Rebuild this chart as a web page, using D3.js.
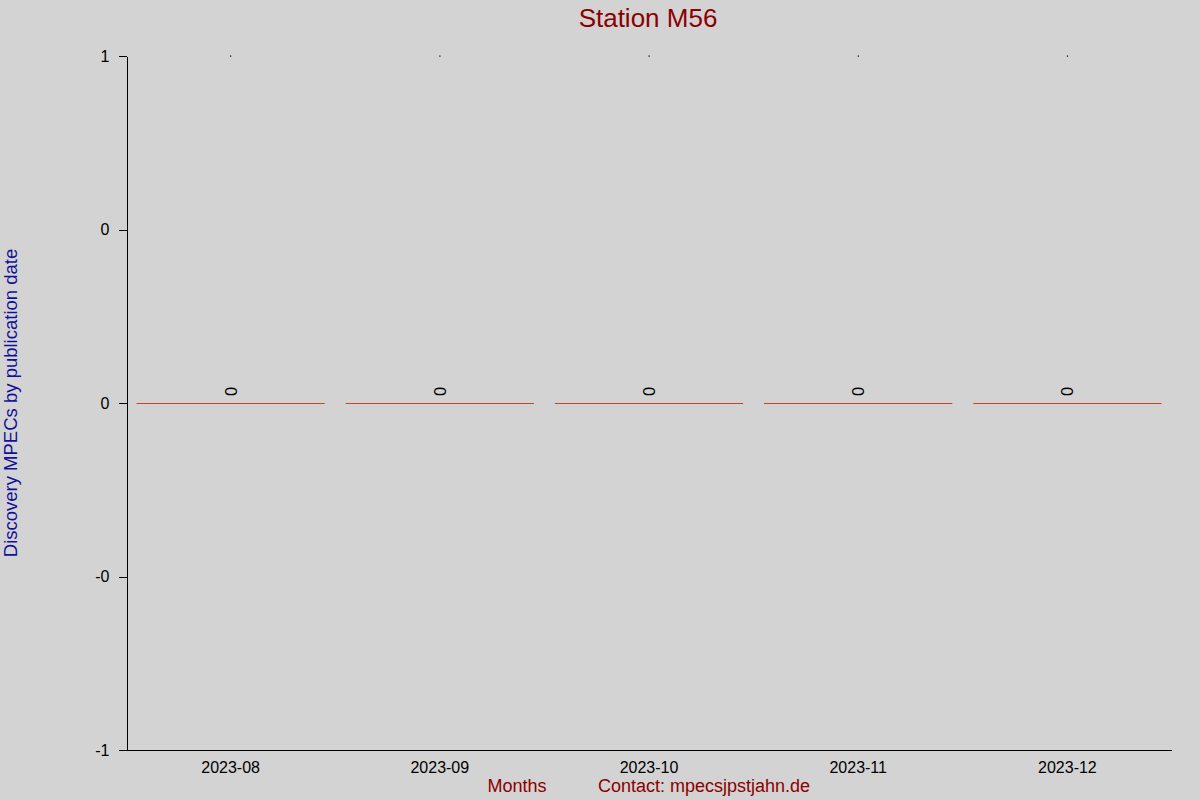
<!DOCTYPE html>
<html>
<head>
<meta charset="utf-8">
<script src="https://cdn.jsdelivr.net/npm/d3@7"></script>
<style>
  html, body { margin: 0; padding: 0; background: #d3d3d3; }
  svg { display: block; font-family: "Liberation Sans", Arial, sans-serif; }
</style>
</head>
<body>
<svg id="chart" width="1200" height="800"></svg>
<script>
// ---- data ----
const months = ["2023-08", "2023-09", "2023-10", "2023-11", "2023-12"];
const discoveries = [0, 0, 0, 0, 0];
const topMarkers = [1, 1, 1, 1, 1];
const yTickValues = [1, 0.5, 0, -0.5, -1];
const yTickLabels = ["1", "0", "0", "-0", "-1"];
const titleText = "Station M56";
const yLabelText = "Discovery MPECs by publication date";
const xLabelText = "Months";
const contactText = "Contact: mpecsjpstjahn.de";

(function () {
const svg = d3.select("#chart");
const W = 1200, H = 800;
const mLeft = 126, mRight = 1172, mTop = 56, mBottom = 750;

svg.append("rect").attr("width", W).attr("height", H).attr("fill", "#d3d3d3");

const x = d3.scaleBand().domain(months).range([mLeft, mRight])
  .paddingInner(0.1).paddingOuter(0.05);
const y = d3.scaleLinear().domain([-1, 1]).range([mBottom, mTop]);

// y axis
const yAxis = d3.axisLeft(y)
  .tickValues(yTickValues)
  .tickFormat((d, i) => yTickLabels[i])
  .tickSize(8).tickSizeOuter(0).tickPadding(9);
const gy = svg.append("g").attr("transform", `translate(${mLeft + 0.5},0)`).call(yAxis);
gy.selectAll("text").attr("font-size", 16).attr("fill", "#000")
  .attr("font-family", "'Liberation Sans', Arial, sans-serif");
gy.selectAll("line, path").attr("stroke", "#000").attr("shape-rendering", "crispEdges");

// x axis (no tick marks)
const xAxis = d3.axisBottom(x).tickSize(0).tickSizeOuter(0).tickPadding(11);
const gx = svg.append("g").attr("transform", `translate(0,${mBottom + 0.5})`).call(xAxis);
gx.select(".domain").attr("stroke", "#000").attr("shape-rendering", "crispEdges")
  .attr("d", `M${mLeft},0H${mRight}`);
gx.selectAll("text").attr("font-size", 16).attr("fill", "#000")
  .attr("font-family", "'Liberation Sans', Arial, sans-serif");

// bars
const barData = months.map((m, i) => ({ m, v: discoveries[i], t: topMarkers[i] }));
svg.append("g").selectAll("rect").data(barData).join("rect")
  .attr("x", d => x(d.m))
  .attr("y", d => y(Math.max(0, d.v)))
  .attr("width", x.bandwidth())
  .attr("height", d => Math.abs(y(d.v) - y(0)))
  .attr("fill", "#c8461e");
svg.append("g").selectAll("line").data(barData).join("line")
  .attr("x1", d => x(d.m)).attr("x2", d => x(d.m) + x.bandwidth())
  .attr("y1", d => Math.round(y(d.v)) + 0.5).attr("y2", d => Math.round(y(d.v)) + 0.5)
  .attr("stroke", "#c8461e").attr("stroke-width", 1);

// value labels (rotated)
svg.append("g").selectAll("text").data(barData).join("text")
  .attr("transform", d => `translate(${x(d.m) + x.bandwidth() / 2 + 6},${y(d.v) - 7}) rotate(-90)`)
  .attr("font-size", 16.5).attr("fill", "#000")
  .text(d => d3.format("d")(d.v));

// top markers
svg.append("g").selectAll("rect").data(barData).join("rect")
  .attr("x", d => x(d.m) + x.bandwidth() / 2 - 0.5)
  .attr("y", d => y(d.t) - 0.5)
  .attr("width", 1.2).attr("height", 1.2).attr("fill", "#000");

// titles
svg.append("text").attr("x", 648).attr("y", 27).attr("text-anchor", "middle")
  .attr("font-size", 26).attr("fill", "#8b0000").text(titleText);
svg.append("text").attr("transform", "translate(17,403) rotate(-90)")
  .attr("text-anchor", "middle").attr("font-size", 18.5).attr("fill", "#10109a").text(yLabelText);
svg.append("text").attr("x", 517).attr("y", 792).attr("text-anchor", "middle")
  .attr("font-size", 18).attr("fill", "#8b0000").text(xLabelText);
svg.append("text").attr("x", 598).attr("y", 792).attr("text-anchor", "start")
  .attr("font-size", 18).attr("fill", "#8b0000").text(contactText);
})();
</script>
</body>
</html>
